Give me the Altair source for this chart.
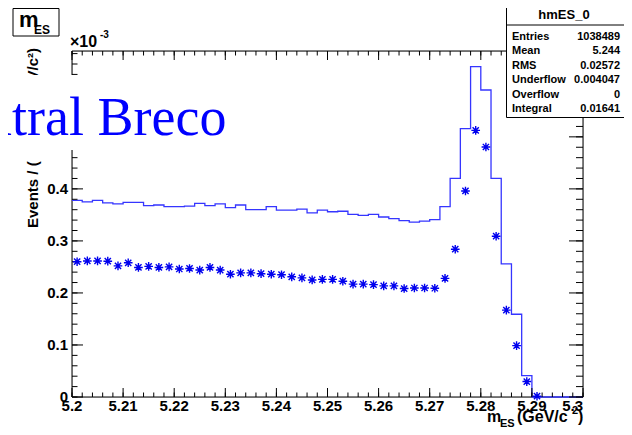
import altair as alt
import pandas as pd

# ---------------- data ----------------
x_start = 5.2
bin_width = 0.002

# histogram (step line), 50 bins of 0.002 GeV/c^2, in units of 1e-3
hist_vals = [0.378, 0.375, 0.378, 0.373, 0.371, 0.374, 0.374, 0.368, 0.369, 0.366,
             0.366, 0.367, 0.372, 0.368, 0.371, 0.364, 0.369, 0.360, 0.360, 0.366,
             0.359, 0.359, 0.361, 0.354, 0.359, 0.356, 0.357, 0.351, 0.349, 0.351,
             0.346, 0.343, 0.339, 0.336, 0.338, 0.341, 0.366, 0.420, 0.516, 0.635,
             0.590, 0.420, 0.256, 0.159, 0.041, 0.0, 0.0, 0.0, 0.0, 0.0]

# asterisk markers (one per bin, first 46 bins)
point_vals = [0.260, 0.2615, 0.2615, 0.261, 0.252, 0.258, 0.249, 0.251, 0.249, 0.250,
              0.246, 0.247, 0.244, 0.249, 0.244, 0.236, 0.2385, 0.2385, 0.237, 0.236,
              0.235, 0.231, 0.229, 0.225, 0.226, 0.226, 0.2225, 0.217, 0.217, 0.216,
              0.2135, 0.2135, 0.2085, 0.2095, 0.2095, 0.209, 0.228, 0.284, 0.396, 0.5125,
              0.4805, 0.309, 0.167, 0.0987, 0.0297, 0.0015]

x_major = [5.2, 5.21, 5.22, 5.23, 5.24, 5.25, 5.26, 5.27, 5.28, 5.29, 5.3]
x_labels = ["5.2", "5.21", "5.22", "5.23", "5.24", "5.25", "5.26", "5.27", "5.28", "5.29", "5.3"]
y_major = [0, 0.1, 0.2, 0.3, 0.4, 0.5, 0.6]
y_labels = ["0", "0.1", "0.2", "0.3", "0.4", "0.5", "0.6"]

stats_title = "hmES_0"
stats_labels = ["Entries", "Mean", "RMS", "Underflow", "Overflow", "Integral"]
stats_values = ["1038489", "5.244", "0.02572", "0.004047", "0", "0.01641"]

slide_text = "utral Breco"
pad_title = ["m", "ES"]
exp_text = ["\u00d710", "-3"]
ytitle_parts = ["Events / (", "0.002 GeV/c\u00b2)"]
xtitle_parts = ["m", "ES", "(GeV/c", "2", ")"]

# ---------------- layout / style ----------------
W, H = 511, 346
X0, X1 = 5.2, 5.3
Y0, Y1 = 0.0, 0.665
FONT = "Liberation Sans"
SERIF = "Liberation Serif"
LINE_BLUE = "#3535ff"
PT_BLUE = "#0000ee"
STAR = "M-1,0L1,0M0,-1L0,1M-0.72,-0.72L0.72,0.72M-0.72,0.72L0.72,-0.72"

n_bins = len(hist_vals)
edges = [round(x_start + bin_width * i, 4) for i in range(n_bins + 1)]
hist_df = pd.DataFrame({"x": edges, "y": hist_vals + [hist_vals[-1]]})
centers = [round(x_start + bin_width * (i + 0.5), 4) for i in range(len(point_vals))]
pts_df = pd.DataFrame({"x": centers, "y": point_vals})

x_minor = [round(x_start + bin_width * i, 4) for i in range(51)]
y_minor = [round(0.02 * i, 2) for i in range(34)]

xs = alt.Scale(domain=[X0, X1], nice=False, zero=False)
ys = alt.Scale(domain=[Y0, Y1], nice=False, zero=True)

one = pd.DataFrame({"a": [0]})

frame = alt.Chart(one).mark_rect(filled=False, stroke="black", strokeWidth=1).encode(
    x=alt.value(0), x2=alt.value(W), y=alt.value(0), y2=alt.value(H))

line = alt.Chart(hist_df).mark_line(interpolate="step-after", color=LINE_BLUE,
                                    strokeWidth=1.3).encode(
    x=alt.X("x:Q", scale=xs, axis=None),
    y=alt.Y("y:Q", scale=ys, axis=None),
)

pts = alt.Chart(pts_df).mark_point(shape=STAR, size=75, filled=False, color=PT_BLUE,
                                   strokeWidth=1.4, opacity=1).encode(
    x=alt.X("x:Q", scale=xs, axis=None),
    y=alt.Y("y:Q", scale=ys, axis=None),
)


# tick marks drawn as short two-point line segments in data space
def xtick_layer(vals, base, length_px, direction):
    dy = direction * length_px * (Y1 - Y0) / H
    rows = []
    for v in vals:
        rows.append({"v": v, "y": base})
        rows.append({"v": v, "y": base + dy})
    return alt.Chart(pd.DataFrame(rows)).mark_line(color="#000000", strokeWidth=1).encode(
        x=alt.X("v:Q", scale=xs, axis=None),
        y=alt.Y("y:Q", scale=ys, axis=None),
        detail="v:N",
    )


def ytick_layer(vals, base, length_px, direction):
    dx = direction * length_px * (X1 - X0) / W
    rows = []
    for v in vals:
        rows.append({"v": v, "x": base})
        rows.append({"v": v, "x": base + dx})
    return alt.Chart(pd.DataFrame(rows)).mark_line(color="#000000", strokeWidth=1).encode(
        x=alt.X("x:Q", scale=xs, axis=None),
        y=alt.Y("v:Q", scale=ys, axis=None),
        detail="v:N",
    )


tick_layers = [
    xtick_layer(x_major, Y0, 9, 1), xtick_layer(x_minor, Y0, 4.5, 1),
    xtick_layer(x_major, Y1, 9, -1), xtick_layer(x_minor, Y1, 4.5, -1),
    ytick_layer(y_major, X0, 11, 1), ytick_layer(y_minor, X0, 5.5, 1),
    ytick_layer(y_major, X1, 14, -1), ytick_layer(y_minor, X1, 7, -1),
]

xlab_df = pd.DataFrame({"v": x_major, "lab": x_labels})
ylab_df = pd.DataFrame({"v": y_major, "lab": y_labels})
LBL = dict(font=FONT, fontSize=15, fontWeight="bold", color="black")
xlab_mid = alt.Chart(xlab_df.iloc[:-1]).mark_text(align="center", baseline="top", **LBL).encode(
    x=alt.X("v:Q", scale=xs, axis=None), y=alt.value(H + 2), text="lab:N")
xlab_end = alt.Chart(xlab_df.iloc[-1:]).mark_text(align="right", baseline="top", **LBL).encode(
    x=alt.X("v:Q", scale=xs, axis=None), y=alt.value(H + 2), text="lab:N")
ylab = alt.Chart(ylab_df).mark_text(align="right", baseline="middle", **LBL).encode(
    y=alt.Y("v:Q", scale=ys, axis=None), x=alt.value(-4), text="lab:N")


def txt(text, x, y, size, align="left", baseline="alphabetic", weight="bold",
        color="black", font=FONT, angle=0):
    return alt.Chart(pd.DataFrame({"t": [text]})).mark_text(
        align=align, baseline=baseline, fontSize=size, fontWeight=weight,
        color=color, font=font, angle=angle).encode(
        x=alt.value(x), y=alt.value(y), text="t:N")


def rect(x, x2, y, y2, stroke=False):
    kw = dict(fill="white")
    if stroke:
        kw.update(stroke="black", strokeWidth=1)
    return alt.Chart(one).mark_rect(**kw).encode(
        x=alt.value(x), x2=alt.value(x2), y=alt.value(y), y2=alt.value(y2))


def hrule(x, x2, y):
    return alt.Chart(one).mark_rule(color="black", strokeWidth=1).encode(
        x=alt.value(x), x2=alt.value(x2), y=alt.value(y))


overlays = []
# y title (partly hidden by the slide text box)
overlays.append(txt(ytitle_parts[0], -34, 177, 15, align="left", angle=270))
overlays.append(txt(ytitle_parts[1], -34, -3, 15, align="right", angle=270))
# slide text box
overlays.append(rect(-80, 173, 24, 99))
overlays.append(txt(slide_text, -87, 84, 54, weight="normal", color="#0000ff", font=SERIF))
# stats box
overlays.append(rect(434.5, 560, -55, 66.5, stroke=True))
overlays.append(hrule(434.5, 560, -26))
overlays.append(txt(stats_title, 492, -36, 13, align="center", baseline="middle"))
for i, (lab, val) in enumerate(zip(stats_labels, stats_values)):
    yy = -14 + 14.4 * i
    overlays.append(txt(lab, 440, yy, 11, baseline="middle"))
    overlays.append(txt(val, 548, yy, 11, align="right", baseline="middle"))
# pad title box
overlays.append(rect(-59, -13, -42.5, -15, stroke=True))
overlays.append(txt(pad_title[0], -53, -24, 22))
overlays.append(txt(pad_title[1], -38, -17, 12))
# exponent
overlays.append(txt(exp_text[0], -2, -4, 16))
overlays.append(txt(exp_text[1], 28, -13, 10))
# x title
overlays.append(txt(xtitle_parts[0], 415, 371, 16))
overlays.append(txt(xtitle_parts[1], 428, 375.5, 11))
overlays.append(txt(xtitle_parts[2], 445, 371, 16))
overlays.append(txt(xtitle_parts[3], 500, 363, 11))
overlays.append(txt(xtitle_parts[4], 506, 371, 16))

chart = alt.layer(frame, line, *tick_layers, pts, xlab_mid, xlab_end, ylab,
                  *overlays).properties(
    width=W, height=H,
    autosize=alt.AutoSizeParams(type="none"),
    padding={"left": 64, "top": 43, "right": 41, "bottom": 30},
    background="white",
)

chart.save("out.html", embed_options={"renderer": "svg", "actions": False})
